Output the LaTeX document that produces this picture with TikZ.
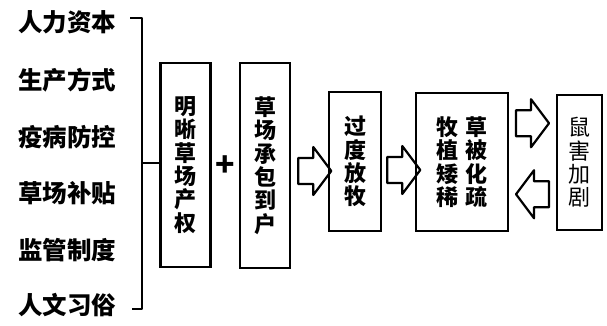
\documentclass[tikz,border=0pt]{standalone}
\usepackage{fontspec}
\setmainfont{Noto Sans CJK SC}
\usetikzlibrary{calc}
\tikzset{
  lbl/.style={font=\fontsize{24.5}{26}\selectfont\bfseries, inner sep=0pt},
  boxv/.style={draw, line width=2.6pt, inner sep=0pt, align=center,
     font=\fontsize{22}{23.3}\selectfont\bfseries},
  bline/.style={line width=2.6pt},
  barrow/.pic={\draw[line width=2.2pt, line join=round]
     (-16.5,-13) -- (-1.5,-13) -- (-1.5,-24) -- (16.5,0) -- (-1.5,24) -- (-1.5,13) -- (-16.5,13) -- cycle;}
}
\begin{document}
\begin{tikzpicture}[x=1pt,y=-1pt]
\useasboundingbox (0,0) rectangle (607,325);
% left labels
\node[lbl] (l1) at (67,22) {人力资本};
\node[lbl] (l2) at (67,80) {生产方式};
\node[lbl] (l3) at (67,137) {疫病防控};
\node[lbl] (l4) at (67,193) {草场补贴};
\node[lbl] (l5) at (67,250) {监管制度};
\node[lbl] (l6) at (67,305) {人文习俗};
% boxes
\node[boxv, minimum width=50pt, minimum height=204pt] (b1) at (185.5,165) {明\\晰\\草\\场\\产\\权};
\node[lbl, font=\fontsize{32}{32}\selectfont\bfseries] (plus) at (225,166) {+};
\node[boxv, minimum width=50pt, minimum height=205pt] (b2) at (265,165.5) {草\\场\\承\\包\\到\\户};
\node[boxv, minimum width=52pt, minimum height=139pt] (b3) at (355,161.5) {过\\度\\放\\牧};
\node[boxv, minimum width=92pt, minimum height=138pt] (b4) at (462,162) {牧\hspace{8pt}草\\植\hspace{8pt}被\\矮\hspace{8pt}化\\稀\hspace{8pt}疏};
\node[boxv, font=\fontsize{22}{23.3}\selectfont, minimum width=45pt, minimum height=135pt] (b5) at (579.5,162.5) {鼠\\害\\加\\剧};
% bracket
\coordinate (bt) at (142,18);
\coordinate (bb) at (142,309);
\draw[bline, line join=round] (130,18) -- (bt) -- (bb) -- (132,309);
\draw[bline] (142,163) -- (b1.west |- 0,163);
% arrows
\path (b2.east) ++(23.5,5.5) pic {barrow};
\path (b3.east) ++(21.5,8.5) pic {barrow};
\path ($(b4.east)!0.5!(b5.west)$) ++(0,-39) pic {barrow};
\path ($(b4.east)!0.5!(b5.west)$) ++(0,32) pic[rotate=180] {barrow};
\end{tikzpicture}
\end{document}
